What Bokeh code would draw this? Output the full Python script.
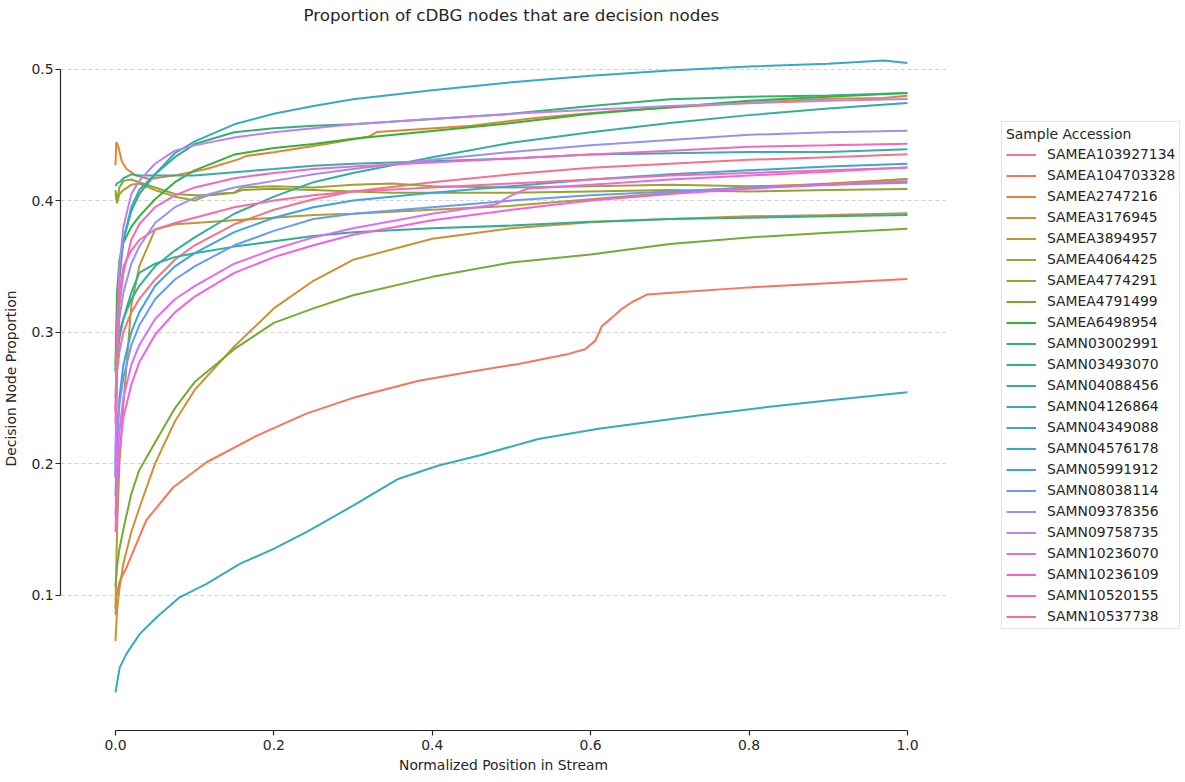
import math
from bokeh.plotting import figure
from bokeh.layouts import row
from bokeh.models import Legend, LegendItem, FixedTicker, PrintfTickFormatter
from bokeh.embed import file_html
from bokeh.resources import INLINE

# ---------------- data ----------------
names = ["SAMEA103927134", "SAMEA104703328", "SAMEA2747216", "SAMEA3176945", "SAMEA3894957",
         "SAMEA4064425", "SAMEA4774291", "SAMEA4791499", "SAMEA6498954", "SAMN03002991",
         "SAMN03493070", "SAMN04088456", "SAMN04126864", "SAMN04349088", "SAMN04576178",
         "SAMN05991912", "SAMN08038114", "SAMN09378356", "SAMN09758735", "SAMN10236070",
         "SAMN10236109", "SAMN10520155", "SAMN10537738"]

X = [0, 0.002, 0.005, 0.01, 0.02, 0.03, 0.05, 0.075, 0.1, 0.15, 0.2, 0.25, 0.3, 0.4, 0.5, 0.6, 0.7, 0.8, 0.9, 1.0]

y_SAMEA103927134 = [0.24, 0.27, 0.285, 0.30, 0.315, 0.325, 0.34, 0.355, 0.366, 0.382, 0.393, 0.401, 0.407, 0.414, 0.42, 0.425, 0.428, 0.431, 0.433, 0.4352]
x_SAMEA104703328 = [0, 0.001, 0.005, 0.014, 0.039, 0.073, 0.115, 0.178, 0.241, 0.3, 0.383, 0.45, 0.509, 0.572, 0.593, 0.606, 0.614, 0.627, 0.639, 0.652, 0.671, 0.8, 1.0]
y_SAMEA104703328 = [0.085, 0.098, 0.11, 0.121, 0.157, 0.182, 0.201, 0.221, 0.238, 0.25, 0.263, 0.27, 0.2758, 0.2834, 0.287, 0.2935, 0.3044, 0.311, 0.3175, 0.3227, 0.3285, 0.334, 0.3404]
x_SAMEA2747216 = [0, 0.001, 0.002, 0.004, 0.008, 0.014, 0.026, 0.043, 0.073, 0.115, 0.157, 0.165, 0.2, 0.266, 0.32, 0.33, 0.45, 0.53, 0.635, 0.8, 0.9, 0.97, 1.0]
y_SAMEA2747216 = [0.427, 0.444, 0.444, 0.44, 0.43, 0.424, 0.419, 0.4164, 0.419, 0.424, 0.4317, 0.434, 0.4367, 0.443, 0.4487, 0.4521, 0.457, 0.4628, 0.4684, 0.4745, 0.4775, 0.478, 0.4798]
y_SAMEA3176945 = [0.065, 0.088, 0.105, 0.124, 0.148, 0.166, 0.2, 0.232, 0.256, 0.289, 0.318, 0.339, 0.355, 0.371, 0.379, 0.3835, 0.386, 0.388, 0.389, 0.3904]
y_SAMEA3894957 = [0.09, 0.15, 0.2, 0.245, 0.32, 0.35, 0.378, 0.382, 0.383, 0.385, 0.387, 0.389, 0.39, 0.393, 0.396, 0.401, 0.406, 0.41, 0.413, 0.4165]
x_SAMEA4064425 = [0, 0.002, 0.005, 0.01, 0.02, 0.03, 0.05, 0.075, 0.1, 0.12, 0.15, 0.16, 0.2, 0.25, 0.3, 0.35, 0.4, 0.5, 0.6, 0.7, 0.8, 0.9, 1.0]
y_SAMEA4064425 = [0.405, 0.398, 0.405, 0.408, 0.412, 0.413, 0.408, 0.403, 0.40, 0.405, 0.406, 0.41, 0.411, 0.41, 0.412, 0.413, 0.411, 0.41, 0.411, 0.412, 0.411, 0.412, 0.4165]
x_SAMEA4774291 = x_SAMEA4064425
y_SAMEA4774291 = [0.408, 0.40, 0.41, 0.415, 0.416, 0.414, 0.41, 0.405, 0.404, 0.404, 0.406, 0.408, 0.409, 0.408, 0.407, 0.406, 0.406, 0.406, 0.407, 0.408, 0.407, 0.408, 0.4089]
y_SAMEA4791499 = [0.106, 0.122, 0.135, 0.15, 0.177, 0.195, 0.216, 0.242, 0.262, 0.287, 0.307, 0.318, 0.328, 0.342, 0.353, 0.359, 0.367, 0.372, 0.3755, 0.3785]
y_SAMEA6498954 = [0.275, 0.33, 0.355, 0.368, 0.38, 0.388, 0.401, 0.414, 0.423, 0.435, 0.44, 0.443, 0.447, 0.453, 0.459, 0.466, 0.471, 0.476, 0.479, 0.4818]
y_SAMN03002991 = [0.27, 0.31, 0.345, 0.37, 0.392, 0.405, 0.42, 0.433, 0.443, 0.452, 0.455, 0.457, 0.458, 0.462, 0.466, 0.472, 0.477, 0.479, 0.480, 0.4818]
y_SAMN03493070 = [0.27, 0.29, 0.30, 0.31, 0.33, 0.345, 0.352, 0.357, 0.36, 0.365, 0.369, 0.373, 0.376, 0.379, 0.381, 0.384, 0.386, 0.387, 0.388, 0.389]
y_SAMN04088456 = [0.25, 0.28, 0.295, 0.31, 0.325, 0.335, 0.35, 0.362, 0.372, 0.39, 0.403, 0.414, 0.421, 0.433, 0.444, 0.452, 0.459, 0.465, 0.47, 0.4743]
y_SAMN04126864 = [0.411, 0.413, 0.414, 0.417, 0.42, 0.419, 0.419, 0.419, 0.419, 0.4216, 0.424, 0.4265, 0.428, 0.43, 0.432, 0.435, 0.436, 0.437, 0.437, 0.439]
x_SAMN04349088 = [0, 0.0054, 0.0139, 0.0307, 0.052, 0.081, 0.115, 0.157, 0.199, 0.241, 0.3, 0.357, 0.408, 0.458, 0.534, 0.61, 0.736, 0.82, 0.905, 1.0]
y_SAMN04349088 = [0.026, 0.045, 0.0553, 0.0705, 0.0831, 0.0983, 0.1085, 0.1237, 0.135, 0.1478, 0.168, 0.1883, 0.1985, 0.206, 0.2187, 0.2264, 0.2365, 0.2428, 0.2484, 0.2543]
x_SAMN04576178 = [0, 0.002, 0.005, 0.01, 0.02, 0.03, 0.05, 0.075, 0.1, 0.15, 0.2, 0.25, 0.3, 0.4, 0.5, 0.6, 0.7, 0.8, 0.9, 0.97, 1.0]
y_SAMN04576178 = [0.19, 0.29, 0.34, 0.37, 0.395, 0.408, 0.42, 0.436, 0.445, 0.458, 0.466, 0.472, 0.477, 0.484, 0.49, 0.495, 0.499, 0.502, 0.504, 0.5065, 0.5047]
y_SAMN05991912 = [0.175, 0.22, 0.25, 0.275, 0.30, 0.315, 0.335, 0.35, 0.36, 0.376, 0.387, 0.395, 0.40, 0.406, 0.411, 0.416, 0.42, 0.423, 0.426, 0.428]
y_SAMN08038114 = [0.19, 0.22, 0.245, 0.265, 0.29, 0.305, 0.325, 0.34, 0.35, 0.366, 0.377, 0.386, 0.39, 0.395, 0.4, 0.404, 0.407, 0.41, 0.412, 0.4135]
y_SAMN09378356 = [0.19, 0.28, 0.31, 0.33, 0.352, 0.365, 0.383, 0.395, 0.402, 0.41, 0.415, 0.42, 0.424, 0.431, 0.437, 0.442, 0.446, 0.45, 0.452, 0.4532]
y_SAMN09758735 = [0.2, 0.3, 0.35, 0.38, 0.405, 0.415, 0.428, 0.438, 0.442, 0.448, 0.452, 0.455, 0.458, 0.462, 0.466, 0.469, 0.472, 0.474, 0.476, 0.4773]
x_SAMN10236070 = [0, 0.002, 0.005, 0.01, 0.02, 0.03, 0.05, 0.075, 0.1, 0.15, 0.2, 0.25, 0.3, 0.4, 0.48, 0.5, 0.52, 0.6, 0.7, 0.8, 0.9, 1.0]
y_SAMN10236070 = [0.16, 0.2, 0.225, 0.25, 0.275, 0.29, 0.31, 0.325, 0.335, 0.352, 0.363, 0.372, 0.379, 0.39, 0.397, 0.404, 0.409, 0.412, 0.416, 0.419, 0.422, 0.4253]
y_SAMN10236109 = [0.148, 0.185, 0.21, 0.235, 0.26, 0.277, 0.298, 0.315, 0.327, 0.345, 0.357, 0.366, 0.374, 0.385, 0.393, 0.40, 0.405, 0.409, 0.412, 0.4147]
y_SAMN10520155 = [0.24, 0.29, 0.32, 0.345, 0.37, 0.382, 0.395, 0.404, 0.41, 0.417, 0.421, 0.424, 0.426, 0.429, 0.432, 0.435, 0.438, 0.441, 0.442, 0.4433]
y_SAMN10537738 = [0.23, 0.3, 0.33, 0.35, 0.362, 0.37, 0.378, 0.383, 0.387, 0.395, 0.40, 0.404, 0.407, 0.41, 0.413, 0.416, 0.419, 0.421, 0.423, 0.425]

xticks = [0.0, 0.2, 0.4, 0.6, 0.8, 1.0]
yticks = [0.1, 0.2, 0.3, 0.4, 0.5]

series = {}
g = globals()
for nm in names:
    xs = g.get("x_" + nm, X)
    series[nm] = (xs, g["y_" + nm])

# ---------------- husl palette (seaborn "husl") ----------------
_m = [[3.2406, -1.5372, -0.4986], [-0.9689, 1.8758, 0.0415], [0.0557, -0.2040, 1.0570]]
_refU, _refV = 0.19784, 0.46834

def _max_chroma(L, H):
    hrad = math.radians(H)
    sinH, cosH = math.sin(hrad), math.cos(hrad)
    sub1 = (L + 16) ** 3 / 1560896.0
    sub2 = sub1 if sub1 > 0.008856 else L / 903.3
    result = float("inf")
    for m1, m2, m3 in _m:
        top = (0.99915 * m1 + 1.05122 * m2 + 1.14460 * m3) * sub2
        rbottom = 0.86330 * m3 - 0.17266 * m2
        lbottom = 0.12949 * m3 - 0.38848 * m1
        bottom = (rbottom * sinH + lbottom * cosH) * sub2
        for t in (0.0, 1.0):
            C = L * (top - 1.05122 * t) / (bottom + 0.17266 * sinH * t)
            if 0.0 < C < result:
                result = C
    return result

def _husl_to_rgb(H, S, L):
    C = _max_chroma(L, H) / 100.0 * S
    hr = math.radians(H)
    U, V = math.cos(hr) * C, math.sin(hr) * C
    t = (L + 16.0) / 116.0
    Y = t ** 3 if t ** 3 > 0.008856 else (116.0 * t - 16.0) / 903.3
    varU = U / (13.0 * L) + _refU
    varV = V / (13.0 * L) + _refV
    Xc = 0.0 - (9.0 * Y * varU) / ((varU - 4.0) * varV - varU * varV)
    Z = (9.0 * Y - (15.0 * varV * Y) - (varV * Xc)) / (3.0 * varV)
    out = []
    for rw in _m:
        c = rw[0] * Xc + rw[1] * Y + rw[2] * Z
        c = 12.92 * c if c <= 0.0031308 else 1.055 * c ** (1 / 2.4) - 0.055
        out.append(min(max(c, 0.0), 1.0))
    return "#%02x%02x%02x" % tuple(int(round(v * 255)) for v in out)

n = len(names)
colors = [_husl_to_rgb(((i / n) + 0.01) % 1 * 359, 0.9 * 99, 0.65 * 99) for i in range(n)]

# ---------------- main figure ----------------
TXT = "#262626"
FS = "13.9px"
p = figure(frame_width=886, frame_height=704, output_backend="svg", toolbar_location=None,
           x_range=(-0.0694, 1.0493), y_range=(-0.003, 0.5324),
           min_border_left=54, min_border_top=0, min_border_bottom=0, min_border_right=0,
           title="Proportion of cDBG nodes that are decision nodes")
p.title.align = "left"
p.title.offset = 243
p.title.text_font = "DejaVu Sans"
p.title.text_font_size = "16.7px"
p.title.text_font_style = "normal"
p.title.text_color = TXT
p.title.standoff = 4
p.outline_line_color = None
p.background_fill_color = "white"

for nm, col in zip(names, colors):
    xs, ys = series[nm]
    p.line(xs, ys, line_color=col, line_width=2.0)

for ax in (p.xaxis[0], p.yaxis[0]):
    ax.axis_line_color = TXT
    ax.axis_line_width = 1.2
    ax.major_tick_line_color = TXT
    ax.major_tick_line_width = 1.2
    ax.major_tick_out = 5
    ax.major_tick_in = 0
    ax.minor_tick_line_color = None
    ax.major_label_text_font = "DejaVu Sans"
    ax.major_label_text_font_size = FS
    ax.major_label_text_color = TXT
    ax.axis_label_text_font = "DejaVu Sans"
    ax.axis_label_text_font_size = FS
    ax.axis_label_text_font_style = "normal"
    ax.axis_label_text_color = TXT

p.xaxis.ticker = FixedTicker(ticks=xticks)
p.yaxis.ticker = FixedTicker(ticks=yticks)
p.xaxis.formatter = PrintfTickFormatter(format="%.1f")
p.yaxis.formatter = PrintfTickFormatter(format="%.1f")
p.xaxis.bounds = (0, 1)
p.yaxis.bounds = (0.1, 0.5)
p.xaxis.axis_label = "Normalized Position in Stream"
p.yaxis.axis_label = "Decision Node Proportion"
p.xaxis.major_label_standoff = 4
p.xaxis.axis_label_standoff = 4
p.yaxis.major_label_standoff = 2
p.yaxis.axis_label_standoff = 9

p.xgrid.visible = False
p.ygrid.grid_line_color = "#cccccc"
p.ygrid.grid_line_dash = "4 3"
p.ygrid.grid_line_width = 0.9

# ---------------- legend panel (separate figure to the right) ----------------
pl = figure(width=234, height=766, output_backend="svg", toolbar_location=None,
            x_axis_location=None, y_axis_location=None, min_border=0,
            x_range=(0, 1), y_range=(0, 1))
pl.outline_line_color = None
pl.xgrid.visible = False
pl.ygrid.visible = False
items = []
for nm, col in zip(names, colors):
    key = pl.line(x=[float("nan")], y=[float("nan")], line_color=col, line_width=2.0)
    items.append(LegendItem(label=nm, renderers=[key]))

legend = Legend(items=items, location=(55, 92))
legend.title = "Sample Accession"
legend.title_text_font = "DejaVu Sans"
legend.title_text_font_size = FS
legend.title_text_font_style = "normal"
legend.title_text_color = TXT
legend.label_text_font = "DejaVu Sans"
legend.label_text_font_size = FS
legend.label_text_color = TXT
legend.glyph_width = 30
legend.glyph_height = 15
legend.label_height = 15
legend.label_standoff = 11
legend.spacing = 5
legend.padding = 4
legend.margin = 0
legend.title_standoff = 4
legend.border_line_color = "#cccccc"
legend.border_line_width = 1
legend.background_fill_color = "white"
pl.add_layout(legend)

layout = row(p, pl)
open("out.html", "w").write(file_html(layout, INLINE))
